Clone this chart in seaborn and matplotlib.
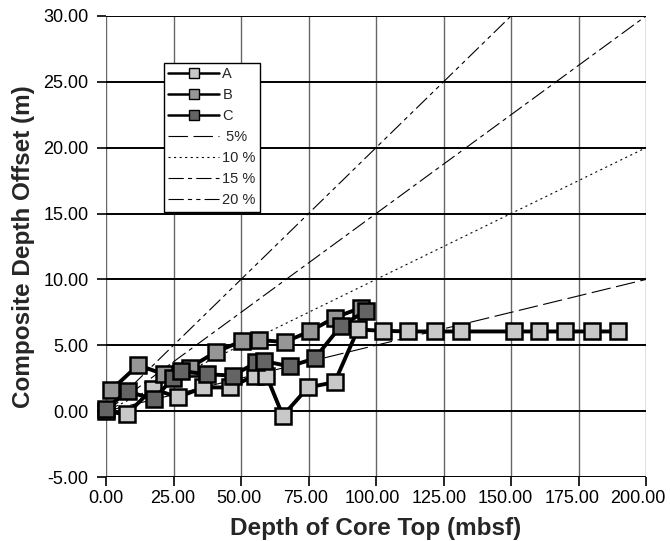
import numpy as np
import pandas as pd
import matplotlib
matplotlib.use("Agg")
import matplotlib.pyplot as plt
import matplotlib.transforms as mtransforms
import seaborn as sns
from matplotlib.ticker import FormatStrFormatter

# ---- data ----
a_depth = [0.0, 7.6, 17.3, 26.6, 36.0, 45.9, 55.1, 59.4, 65.5, 74.8, 84.7, 93.3,
           102.5, 112.0, 122.0, 131.5, 151.0, 160.5, 170.0, 180.0, 189.5]
a_offset = [0.0, -0.25, 1.7, 1.05, 1.8, 1.8, 2.7, 2.7, -0.35, 1.8, 2.2, 6.2,
            6.1, 6.05, 6.05, 6.05, 6.05, 6.05, 6.05, 6.05, 6.05]
b_depth = [1.9, 11.9, 21.4, 31.0, 40.7, 50.2, 56.7, 66.2, 75.4, 84.7, 94.5]
b_offset = [1.6, 3.5, 2.8, 3.3, 4.5, 5.3, 5.4, 5.25, 6.05, 7.1, 7.85]
c_depth = [0.0, 8.0, 17.7, 24.8, 27.8, 37.3, 47.0, 55.7, 58.5, 68.0, 77.3, 87.1, 96.4]
c_offset = [0.2, 1.5, 0.9, 2.5, 3.05, 2.8, 2.7, 3.7, 3.8, 3.4, 4.0, 6.5, 7.6]

series_names = ["A", "B", "C"]
series_colors = ["#c8c8c8", "#969696", "#646464"]

rate_labels = [" 5%", "10 %", "15 %", "20 %"]
rates = [0.05, 0.10, 0.15, 0.20]
rate_depth_max = [200.0, 200.0, 200.0, 150.0]

x_ticks = [0, 25, 50, 75, 100, 125, 150, 175, 200]
y_ticks = [-5, 0, 5, 10, 15, 20, 25, 30]

# ---- styling ----
sns.set_style("white")
plt.rcParams["font.family"] = ["Liberation Sans", "DejaVu Sans"]
plt.rcParams["lines.scale_dashes"] = False

fig, ax = plt.subplots(figsize=(6.7, 5.41), dpi=100)
fig.subplots_adjust(left=106 / 670, right=646 / 670, top=1 - 16 / 541, bottom=1 - 477 / 541)

rate_dashes = [(14, 4), (1.5, 2.5), (11, 3, 3, 3), (11, 3, 3, 3, 3, 3)]
for lab, r, xm, dsh in zip(rate_labels, rates, rate_depth_max, rate_dashes):
    df = pd.DataFrame({"x": [0.0, xm], "y": [0.0, r * xm]})
    sns.lineplot(data=df, x="x", y="y", ax=ax, color="black", lw=0.8,
                 dashes=False, estimator=None, sort=False, label=lab, zorder=3)
    ax.lines[-1].set_dashes(dsh)

for name, col, xs, ys in zip(series_names, series_colors,
                             [a_depth, b_depth, c_depth],
                             [a_offset, b_offset, c_offset]):
    df = pd.DataFrame({"x": xs, "y": ys})
    sns.lineplot(data=df, x="x", y="y", ax=ax, color="black", lw=2.8,
                 marker="s", markersize=11.5, markerfacecolor=col,
                 markeredgecolor="black", markeredgewidth=1.8,
                 estimator=None, sort=False, label=name, zorder=5, clip_on=False)

ax.set_xlim(0, 200)
ax.set_ylim(-5, 30)
ax.set_xticks(x_ticks)
ax.set_yticks(y_ticks)
ax.xaxis.set_major_formatter(FormatStrFormatter("%.2f"))
ax.yaxis.set_major_formatter(FormatStrFormatter("%.2f"))

for s in ax.spines.values():
    s.set_visible(False)
for xv in x_ticks:
    ax.axvline(xv, color="#666666", lw=1.0, zorder=1)
for yv in y_ticks:
    ax.axhline(yv, color="black", lw=1.4, zorder=1)

ax.tick_params(axis="both", which="major", direction="out", length=6.5, width=1.2,
               color="black", labelsize=13, labelcolor="black",
               bottom=True, left=True, pad=3)
ax.tick_params(axis="y", pad=6)

ax.set_xlabel("Depth of Core Top (mbsf)", fontsize=17.5, fontweight="bold", labelpad=7)
ax.set_ylabel("Composite Depth Offset (m)", fontsize=17.5, fontweight="bold", labelpad=6)

handles, labels = ax.get_legend_handles_labels()
order = ["A", "B", "C"] + rate_labels
hmap = dict(zip(labels, handles))
leg = ax.legend([hmap[k] for k in order], order, loc="upper left",
                bbox_to_anchor=(164 / 670, 1 - 63 / 541), bbox_transform=fig.transFigure,
                borderaxespad=0, fontsize=10.5, frameon=True, fancybox=False,
                edgecolor="black", framealpha=1, handlelength=3.5, handletextpad=0.2,
                borderpad=0.3, labelspacing=0.48, markerscale=0.6)
leg.get_frame().set_linewidth(1.0)
leg.set_zorder(10)
for lh in leg.get_lines():
    if lh.get_marker() not in (None, "None", ""):
        lh.set_linewidth(1.8)
        lh.set_markeredgewidth(1.0)

# keep the last x tick label inside the figure, as in the reference
fig.canvas.draw()
xt = ax.xaxis.get_major_ticks()
for i, t in enumerate(xt):
    shift = -(i * 0.9) / 100.0
    if i == len(xt) - 1:
        shift = -8 / 100.0
    t.label1.set_transform(t.label1.get_transform() +
                           mtransforms.ScaledTranslation(shift, 0, fig.dpi_scale_trans))

fig.savefig("out.png", dpi=100)
